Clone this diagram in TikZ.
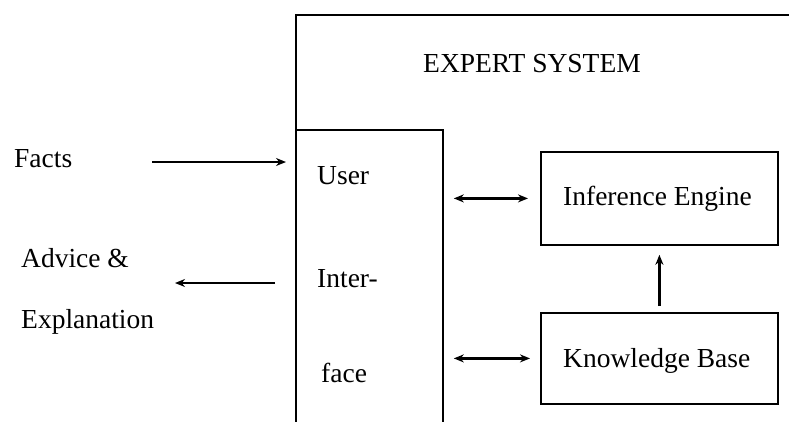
\documentclass[tikz,border=0pt]{standalone}
\usepackage{fontspec}
\setmainfont{Liberation Serif}
\usetikzlibrary{arrows.meta}
\tikzset{
    blk/.style={draw,line width=1.8pt,inner sep=0pt},
    lbl/.style={inner sep=0pt,font=\fontsize{27.5}{33}\selectfont},
    flow/.style={line width=2.2pt,-{Stealth[length=10pt,width=8pt]}},
    both/.style={line width=2.2pt,{Stealth[length=10pt,width=8pt]}-{Stealth[length=10pt,width=8pt]}}
}
\begin{document}
\begin{tikzpicture}[x=1pt,y=-1pt]
        \useasboundingbox (0,0) rectangle (789,421);
        \clip (0,0) rectangle (789,421);
        % boxes
        \node[blk,anchor=north west,minimum width=600pt,minimum height=500pt] (es) at (295,14) {};
        \node[blk,anchor=north west,minimum width=147pt,minimum height=340pt] (ui) at (295,129) {};
        \node[blk,anchor=north west,minimum width=237pt,minimum height=93pt] (ie) at (540,151) {};
        \node[blk,anchor=north west,minimum width=237pt,minimum height=91pt] (kb) at (540,312) {};
        % texts
        \node[lbl,anchor=base west] (estitle) at (423,72) {EXPERT SYSTEM};
        \node[lbl,anchor=base west] (ietext) at (563,205) {Inference Engine};
        \node[lbl,anchor=base west] (kbtext) at (563,367) {Knowledge Base};
        \node[lbl,anchor=base west] (u1) at (317,184) {User};
        \node[lbl,anchor=base west] (u2) at (317,287) {Inter-};
        \node[lbl,anchor=base west] (u3) at (321,382) {face};
        \node[lbl,anchor=base west] (facts) at (14,167) {Facts};
        \node[lbl,anchor=base west] (adv1) at (21,267) {Advice \&};
        \node[lbl,anchor=base west] (adv2) at (21,328) {Explanation};
        % connectors
        \coordinate (fin) at (152,162);
        \coordinate (aout) at (175,283);
        \draw[flow,shorten >=9pt] (fin) -- (fin -| ui.west);
        \draw[flow,shorten <=20pt] (aout -| ui.west) -- (aout);
        \draw[both,shorten <=10pt,shorten >=12pt] (ie.west -| ui.east) -- (ie.west);
        \draw[both,shorten <=10pt,shorten >=10pt] (kb.west -| ui.east) -- (kb.west);
        \draw[flow,line width=3pt,shorten <=6pt,shorten >=9pt] (kb.north) -- (ie.south);
\end{tikzpicture}
\end{document}
